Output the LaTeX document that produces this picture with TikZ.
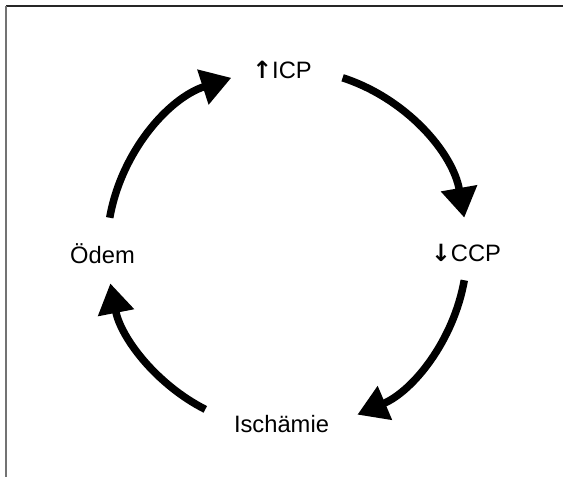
\documentclass[tikz,border=0pt]{standalone}
\usepackage{fontspec}
\setmainfont{Liberation Sans}
\newfontfamily\arrowfont{DejaVu Sans}
\usepackage{tikz}
\usetikzlibrary{arrows.meta}

\tikzset{
  lbl/.style={anchor=base, inner sep=0pt, font=\fontsize{13.5}{16}\selectfont},
  cyc/.style={line width=0.15cm, -{Triangle[length=0.6cm, width=0.7cm]}},
  frame/.style={line width=0.6pt}
}

\begin{document}
\begin{tikzpicture}
\useasboundingbox (0,0) rectangle (11.26,9.54);
%----------------------------------
\coordinate (tr) at (11.26,9.42);
\coordinate (tl) at (0.12,9.42);
\coordinate (bl) at (0.12,0);
\draw[frame, black!85] (tr) -- (tl);
\draw[frame, black!55] (tl) -- (bl);
%----------------------------------
\coordinate (c) at (5.74,4.56);
\def\rad{3.6}
\node[lbl] (icp) at (5.64,7.96) {{\arrowfont\bfseries ↑}ICP};
\node[lbl] (ccp) at (9.32,4.30) {{\arrowfont\bfseries ↓}CCP};
\node[lbl] (isch) at (5.63,0.88) {Ischämie};
\node[lbl] (odem) at (2.05,4.26) {Ödem};
%----------------------------------
\draw[cyc] ([shift={(170:\rad)}]c) arc (170:108:\rad); % Oedem -> ICP
\draw[cyc] ([shift={(72:\rad)}]c) arc (72:10:\rad);    % ICP -> CCP
\draw[cyc] ([shift={(-10:\rad)}]c) arc (-10:-67:\rad); % CCP -> Ischaemie
\draw[cyc] ([shift={(-117:\rad)}]c) arc (-117:-169:\rad); % Ischaemie -> Oedem
\end{tikzpicture}
\end{document}
